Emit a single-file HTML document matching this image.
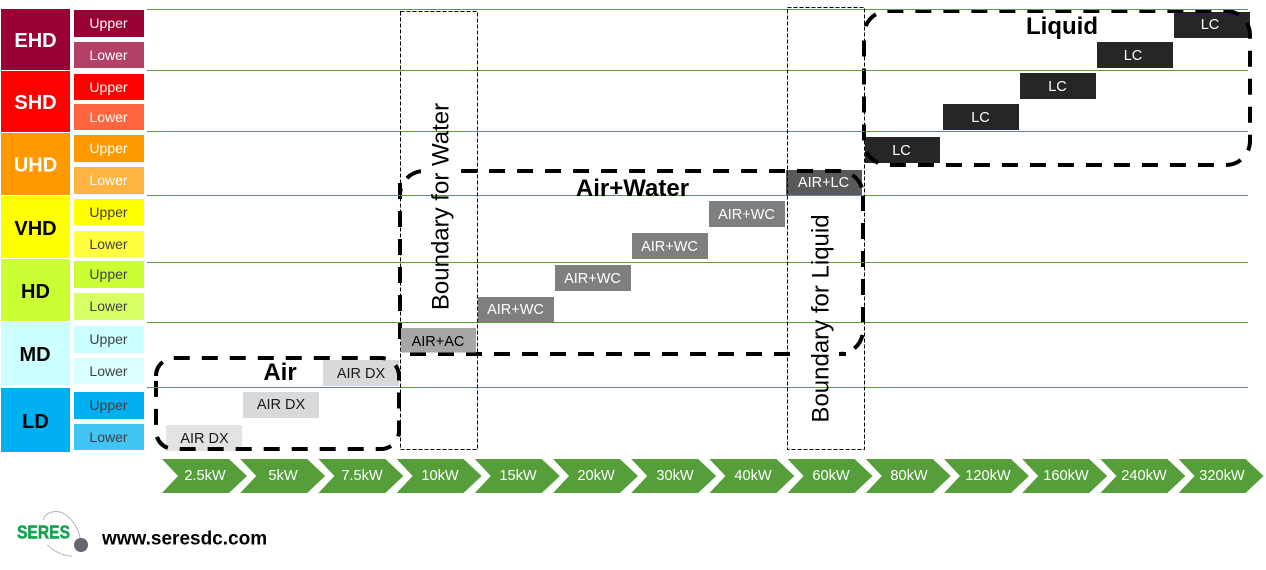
<!DOCTYPE html>
<html><head><meta charset="utf-8"><title>SERES diagram</title>
<style>
html,body{margin:0;padding:0;background:#fff;width:1266px;height:570px;overflow:hidden}
svg{display:block;font-family:"Liberation Sans",Arial,sans-serif}
</style></head><body>
<svg width="1266" height="570" viewBox="0 0 1266 570" xmlns="http://www.w3.org/2000/svg">
<!-- left blocks -->
<g>
<rect x="1" y="9" width="69" height="61" fill="#990033"/>
<rect x="1" y="71" width="69" height="61" fill="#ff0000"/>
<rect x="1" y="133" width="69" height="62" fill="#ff9900"/>
<rect x="1" y="196" width="69" height="62" fill="#ffff00"/>
<rect x="1" y="259" width="69" height="62" fill="#ccff33"/>
<rect x="1" y="322" width="69" height="63" fill="#ccffff"/>
<rect x="1" y="388" width="69" height="64" fill="#00b0f0"/>
</g>
<g font-size="20" font-weight="bold" text-anchor="middle">
<text x="35.500" y="47" fill="#fff">EHD</text>
<text x="35.500" y="109" fill="#fff">SHD</text>
<text x="35.500" y="171.500" fill="#fff">UHD</text>
<text x="35.500" y="235" fill="#000">VHD</text>
<text x="35.500" y="298" fill="#000">HD</text>
<text x="35" y="361" fill="#000">MD</text>
<text x="35.500" y="428" fill="#000">LD</text>
</g>
<!-- sub blocks -->
<g>
<rect x="74" y="10" width="70" height="27" fill="#990033"/>
<rect x="74" y="42" width="70" height="26" fill="#b24069"/>
<rect x="74" y="74" width="70" height="26" fill="#ff0000"/>
<rect x="74" y="104" width="70" height="26" fill="#ff6640"/>
<rect x="74" y="135" width="70" height="27" fill="#ff9900"/>
<rect x="74" y="167" width="70" height="27" fill="#ffb340"/>
<rect x="74" y="199" width="70" height="26" fill="#ffff00"/>
<rect x="74" y="231" width="70" height="26" fill="#ffff40"/>
<rect x="74" y="261" width="70" height="27" fill="#ccff33"/>
<rect x="74" y="293" width="70" height="27" fill="#d9ff66"/>
<rect x="74" y="326" width="70" height="27" fill="#ccffff"/>
<rect x="74" y="358" width="70" height="26" fill="#d9ffff"/>
<rect x="74" y="392" width="70" height="27" fill="#00b0f0"/>
<rect x="74" y="424" width="70" height="26" fill="#40c4f4"/>
</g>
<g font-size="14" text-anchor="middle">
<text x="108.500" y="28" fill="#fff">Upper</text>
<text x="108.500" y="60" fill="#fff">Lower</text>
<text x="108.500" y="92" fill="#fff">Upper</text>
<text x="108.500" y="122" fill="#fff">Lower</text>
<text x="108.500" y="153" fill="#fff">Upper</text>
<text x="108.500" y="185" fill="#fff">Lower</text>
<text x="108.500" y="217" fill="#404040">Upper</text>
<text x="108.500" y="249" fill="#404040">Lower</text>
<text x="108.500" y="279" fill="#404040">Upper</text>
<text x="108.500" y="311" fill="#404040">Lower</text>
<text x="108.500" y="344" fill="#404040">Upper</text>
<text x="108.500" y="376" fill="#404040">Lower</text>
<text x="108.500" y="410" fill="#404040">Upper</text>
<text x="108.500" y="442" fill="#404040">Lower</text>
</g>
<!-- data boxes -->
<g>
<rect x="1174" y="12" width="76" height="26" fill="#262626"/>
<rect x="1097" y="42" width="76" height="26" fill="#262626"/>
<rect x="1020" y="73" width="76" height="26" fill="#262626"/>
<rect x="943" y="104" width="76" height="26" fill="#262626"/>
<rect x="865" y="137" width="75" height="26" fill="#262626"/>
<rect x="786" y="170" width="76" height="25" fill="#595959"/>
<rect x="709" y="201" width="76" height="26" fill="#7f7f7f"/>
<rect x="632" y="233" width="76" height="26" fill="#7f7f7f"/>
<rect x="555" y="265" width="76" height="26" fill="#7f7f7f"/>
<rect x="478" y="297" width="76" height="25" fill="#7f7f7f"/>
<rect x="323" y="360" width="76" height="26" fill="#d9d9d9"/>
<rect x="243" y="392" width="76" height="26" fill="#d9d9d9"/>
<rect x="166" y="425" width="76" height="26" fill="#e3e3e3"/>
</g>
<!-- thick dashed rounded boxes -->
<g fill="none" stroke="#000" stroke-width="4" stroke-dasharray="16 12">
<path d="M156,376 A18,18 0 0 1 174,358 H381 A18,18 0 0 1 399,376 V431 A18,18 0 0 1 381,449 H174 A18,18 0 0 1 156,431 Z"/>
<path d="M400,195 A24,24 0 0 1 424,171 H839 A24,24 0 0 1 863,195" stroke-dashoffset="9.300"/>
<path d="M863,195 V330 A24,24 0 0 1 839,354"/>
<path d="M846,354 H410"/>
<path d="M400,339 V183"/>
<path d="M864,35 A24,24 0 0 1 888,11 H1226 A24,24 0 0 1 1250,35 V141 A24,24 0 0 1 1226,165 H888 A24,24 0 0 1 864,141 Z" stroke-dashoffset="19"/>
</g>
<rect x="401" y="328" width="75" height="24.500" fill="#a6a6a6"/>
<!-- white rotated text boxes -->
<rect x="421" y="98" width="38" height="218" fill="#fff"/>
<rect x="795" y="210" width="44" height="217" fill="#fff"/>
<!-- green lines -->
<g stroke="#5a9e3c" stroke-width="1">
<path d="M147,9.500H1248M147,70.500H1248M147,131.500H1248M147,195.500H1248M147,262.500H1248M147,322.500H1248M147,387.500H1248"/>
</g>
<!-- thin dashed -->
<g fill="none" stroke="#000" stroke-width="1" stroke-dasharray="4 2">
<rect x="400.500" y="11.500" width="77" height="438"/>
<rect x="787.500" y="7.500" width="77" height="442"/>
</g>
<!-- box labels -->
<g font-size="14.500" text-anchor="middle" fill="#fff">
<text x="1210" y="29">LC</text>
<text x="1133" y="60">LC</text>
<text x="1057.500" y="91">LC</text>
<text x="980.500" y="122">LC</text>
<text x="901.500" y="155">LC</text>
<text x="823.500" y="187">AIR+LC</text>
<text x="746.500" y="219">AIR+WC</text>
<text x="669.500" y="251">AIR+WC</text>
<text x="592.500" y="283">AIR+WC</text>
<text x="515.500" y="314">AIR+WC</text>
<text x="438" y="346" fill="#000">AIR+AC</text>
<text x="361" y="378" fill="#1a1a1a">AIR DX</text>
<text x="281" y="409" fill="#1a1a1a">AIR DX</text>
<text x="204.500" y="443" fill="#1a1a1a">AIR DX</text>
</g>
<!-- group titles -->
<g font-weight="bold" text-anchor="middle" fill="#000" font-size="24">
<text x="280" y="380">Air</text>
<text x="632.500" y="196">Air+Water</text>
<text x="1062" y="34">Liquid</text>
</g>
<text transform="translate(448.500,206.500) rotate(-90)" font-size="24" text-anchor="middle" fill="#000">Boundary for Water</text>
<text transform="translate(828.500,318.500) rotate(-90)" font-size="24" text-anchor="middle" fill="#000">Boundary for Liquid</text>
<!-- chevrons -->
<g fill="#559e39">
<polygon points="162,459 229,459 247,476 229,493 162,493 178,476"/>
<polygon points="240.200,459 307.200,459 325.200,476 307.200,493 240.200,493 256.200,476"/>
<polygon points="318.400,459 385.400,459 403.400,476 385.400,493 318.400,493 334.400,476"/>
<polygon points="396.600,459 463.600,459 481.600,476 463.600,493 396.600,493 412.600,476"/>
<polygon points="474.800,459 541.800,459 559.800,476 541.800,493 474.800,493 490.800,476"/>
<polygon points="553,459 620,459 638,476 620,493 553,493 569,476"/>
<polygon points="631.200,459 698.200,459 716.200,476 698.200,493 631.200,493 647.200,476"/>
<polygon points="709.400,459 776.400,459 794.400,476 776.400,493 709.400,493 725.400,476"/>
<polygon points="787.600,459 854.600,459 872.600,476 854.600,493 787.600,493 803.600,476"/>
<polygon points="865.800,459 932.800,459 950.800,476 932.800,493 865.800,493 881.800,476"/>
<polygon points="944,459 1011,459 1029,476 1011,493 944,493 960,476"/>
<polygon points="1022.200,459 1089.200,459 1107.200,476 1089.200,493 1022.200,493 1038.200,476"/>
<polygon points="1100.400,459 1167.400,459 1185.400,476 1167.400,493 1100.400,493 1116.400,476"/>
<polygon points="1178.600,459 1245.600,459 1263.600,476 1245.600,493 1178.600,493 1194.600,476"/>
</g>
<g font-size="14.600" text-anchor="middle" fill="#fff">
<text x="205" y="480">2.5kW</text>
<text x="283" y="480">5kW</text>
<text x="362" y="480">7.5kW</text>
<text x="440" y="480">10kW</text>
<text x="518" y="480">15kW</text>
<text x="596" y="480">20kW</text>
<text x="675" y="480">30kW</text>
<text x="753" y="480">40kW</text>
<text x="831" y="480">60kW</text>
<text x="909" y="480">80kW</text>
<text x="988" y="480">120kW</text>
<text x="1066" y="480">160kW</text>
<text x="1144" y="480">240kW</text>
<text x="1222" y="480">320kW</text>
</g>
<!-- logo -->
<g fill="none" stroke="#b5b5b5" stroke-width="1">
<path d="M43,520 C46,511 58,509 66,515 C74,521 79,530 80,538"/>
<path d="M47,545 C54,551 63,556 72,556"/>
</g>
<circle cx="81" cy="545" r="7" fill="#66666e"/>
<text x="17" y="538.500" font-size="18" font-weight="bold" fill="#16a350" stroke="#16a350" stroke-width=".5" textLength="53" lengthAdjust="spacingAndGlyphs">SERES</text>
<text x="102" y="544.500" font-size="19" font-weight="bold" fill="#000">www.seresdc.com</text>
</svg>
</body></html>
